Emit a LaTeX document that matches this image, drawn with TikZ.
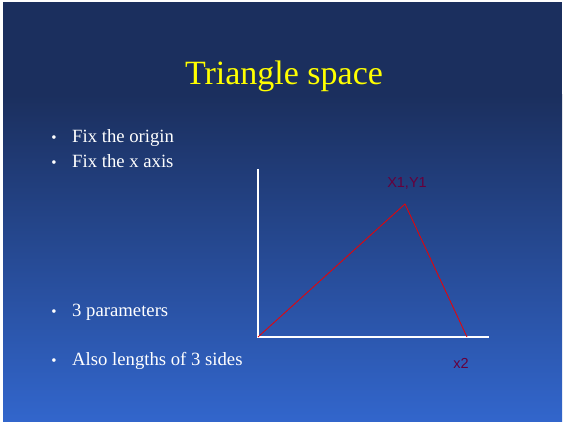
\documentclass[tikz,border=0pt]{standalone}
\usepackage{fontspec}
\setmainfont{Liberation Serif}
\newfontfamily\labelfont{Liberation Sans}
\definecolor{navytop}{RGB}{27,47,94}
\definecolor{bluebot}{RGB}{50,102,204}
\definecolor{titleyellow}{RGB}{255,255,0}
\definecolor{lblcol}{RGB}{102,0,60}
\definecolor{tri}{RGB}{240,0,0}
\tikzset{
  bodytext/.style={anchor=base west, inner sep=0pt, text=white, font=\fontsize{18.7}{22}\selectfont},
  bulletmark/.style={anchor=base, inner sep=0pt, text=white, font=\fontsize{15}{17}\selectfont},
  axisline/.style={draw=white, line width=2pt},
  triline/.style={draw=tri, line width=0.8pt},
  ptlabel/.style={inner sep=0pt, text=lblcol, font=\labelfont\fontsize{14.5}{16}\selectfont}
}
\begin{document}
\begin{tikzpicture}[x=1pt,y=-1pt]
\useasboundingbox (0,0) rectangle (563,422);
\fill[white] (0,0) rectangle (563,422);
\fill[navytop] (3,2) rectangle (562,96);
\shade[top color=navytop, bottom color=bluebot] (3,95) rectangle (562,422);
% title
\node[anchor=base, inner sep=0pt, text=titleyellow, font=\fontsize{34}{40}\selectfont] (title) at (284,85) {Triangle space};
% bullets
\node[bulletmark] (b1) at (54,143) {•};
\node[bodytext] (t1) at (72,143) {Fix the origin};
\node[bulletmark] (b2) at (54,168) {•};
\node[bodytext] (t2) at (72,168) {Fix the x axis};
\node[bulletmark] (b3) at (54,317) {•};
\node[bodytext] (t3) at (72,317) {3 parameters};
\node[bulletmark] (b4) at (54,366) {•};
\node[bodytext] (t4) at (72,366) {Also lengths of 3 sides};
% axes
\coordinate (O) at (258,337);
\coordinate (ytop) at (258,169);
\coordinate (xend) at (489,337);
\draw[axisline] (ytop) -- (O) -- (xend);
% triangle
\coordinate (A) at (405,204);
\coordinate (B) at (467,337);
\draw[triline] (O) -- (A) -- (B);
% labels
\node[ptlabel, anchor=base] (lA) at (407,188) {X1,Y1};
\node[ptlabel, anchor=base] (lB) at (461,369) {x2};
\end{tikzpicture}
\end{document}
